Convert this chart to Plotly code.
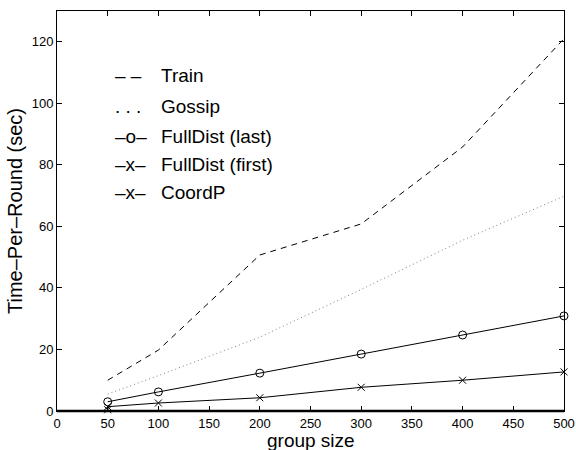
import plotly.graph_objects as go

group_size = [50, 100, 200, 300, 400, 500]
train = [10.0, 19.8, 50.7, 60.8, 85.8, 121.0]
gossip = [5.5, 11.5, 24.0, 39.5, 55.5, 69.8]
fulldist_last = [3.0, 6.2, 12.3, 18.5, 24.7, 30.9]
fulldist_first = [1.4, 2.6, 4.3, 7.7, 10.0, 12.7]
coordp_size = [50]
coordp = [0.4]

legend_symbols = ["\u2013 \u2013", ". . .", "\u2013o\u2013", "\u2013x\u2013", "\u2013x\u2013"]
legend_labels = ["Train", "Gossip", "FullDist (last)", "FullDist (first)", "CoordP"]
x_ticks = list(range(0, 501, 50))
y_ticks = list(range(0, 121, 20))

FONT = "Liberation Sans, Arial, Helvetica, sans-serif"

fig = go.Figure()
fig.add_trace(go.Scatter(x=group_size, y=train, mode="lines",
                         line=dict(color="black", width=1, dash="6px,5px"),
                         cliponaxis=False))
fig.add_trace(go.Scatter(x=group_size, y=gossip, mode="lines",
                         line=dict(color="#808080", width=1, dash="1px,3px"),
                         cliponaxis=False))
fig.add_trace(go.Scatter(x=group_size, y=fulldist_last, mode="lines+markers",
                         line=dict(color="black", width=1),
                         marker=dict(symbol="circle-open", size=8, color="black",
                                     line=dict(width=1, color="black")),
                         cliponaxis=False))
fig.add_trace(go.Scatter(x=group_size, y=fulldist_first, mode="lines+markers",
                         line=dict(color="black", width=1),
                         marker=dict(symbol="x-thin-open", size=7, color="black",
                                     line=dict(width=1, color="black")),
                         cliponaxis=False))
fig.add_trace(go.Scatter(x=coordp_size, y=coordp, mode="lines+markers",
                         line=dict(color="black", width=1),
                         marker=dict(symbol="x-thin-open", size=7, color="black",
                                     line=dict(width=1, color="black")),
                         cliponaxis=False))

# heavier bottom axis line, as in the reference
fig.add_shape(type="line", xref="paper", yref="paper", x0=0, x1=1, y0=0, y1=0,
              line=dict(color="black", width=2.5), layer="above")

legend_y = [0.839, 0.762, 0.687, 0.617, 0.547]
for sym, lab, yy in zip(legend_symbols, legend_labels, legend_y):
    fig.add_annotation(x=0.110, y=yy, xref="paper", yref="paper", text=sym,
                       showarrow=False, xanchor="left", yanchor="middle",
                       font=dict(family=FONT, size=19, color="black"))
    fig.add_annotation(x=0.202, y=yy, xref="paper", yref="paper", text=lab,
                       showarrow=False, xanchor="left", yanchor="middle",
                       font=dict(family=FONT, size=19, color="black"))

fig.add_annotation(x=0.5, y=-0.074, xref="paper", yref="paper", text="group size",
                   showarrow=False, xanchor="center", yanchor="middle",
                   font=dict(family=FONT, size=19, color="black"))

axis_common = dict(showline=True, linecolor="black", linewidth=1, mirror="ticks",
                   ticks="inside", ticklen=5, tickcolor="black", tickwidth=1,
                   showgrid=False, zeroline=False, automargin=False,
                   tickfont=dict(family=FONT, size=13, color="black"))

fig.update_layout(
    width=576, height=450,
    margin=dict(l=57, r=12, t=11, b=39),
    plot_bgcolor="white", paper_bgcolor="white",
    showlegend=False,
    font=dict(family=FONT, color="black"),
    xaxis=dict(range=[0, 500], tickvals=x_ticks, ticklabelstandoff=0, **axis_common),
    yaxis=dict(range=[0, 130], tickvals=y_ticks, title=dict(text="Time\u2013Per\u2013Round (sec)",
               font=dict(family=FONT, size=20), standoff=3), **axis_common),
)

fig.write_html("out.html")
